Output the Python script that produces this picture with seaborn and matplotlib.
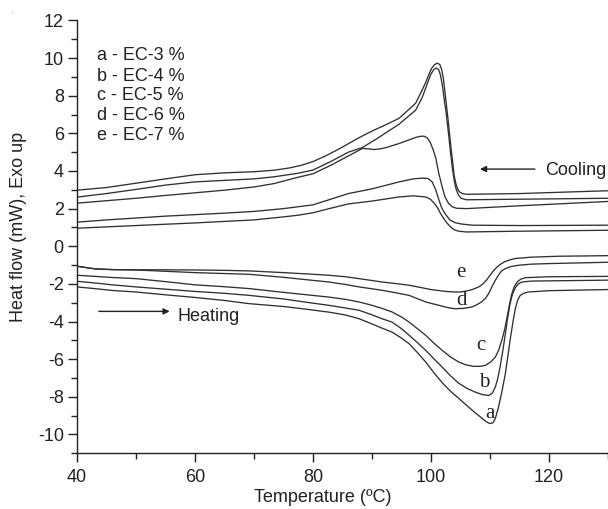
import numpy as np
import pandas as pd
import matplotlib
matplotlib.use("Agg")
import matplotlib.pyplot as plt
from matplotlib.ticker import MultipleLocator
import seaborn as sns

# ---------------- data ----------------
# Cooling curves (exothermic, upper set)
cool_A_T = [40, 45, 50, 55, 60, 65, 70, 73.4, 76, 78, 80, 82, 84, 86, 88, 90, 92.5, 94.6, 96, 97.4, 98.5, 99.1, 99.6, 100.1, 100.6, 101.1, 101.5, 101.8, 102.1, 102.4, 102.8, 103.1, 103.4, 103.7, 103.9, 104.2, 104.5, 104.8, 105.3, 106, 115, 130]
cool_A_y = [2.98, 3.12, 3.35, 3.58, 3.8, 3.9, 3.96, 4.04, 4.16, 4.3, 4.5, 4.78, 5.1, 5.45, 5.8, 6.12, 6.48, 6.8, 7.2, 7.6, 8.3, 8.7, 9.1, 9.45, 9.65, 9.73, 9.65, 9.4, 8.9, 8.1, 7.0, 6.1, 5.2, 4.4, 3.8, 3.35, 3.05, 2.9, 2.8, 2.76, 2.8, 2.95]

cool_B_T = [40, 45, 50, 55, 60, 65, 70, 73.4, 77.5, 80, 83, 86, 88.4, 91, 94.6, 97.4, 98.5, 99.6, 100.0, 100.5, 100.9, 101.3, 101.6, 101.9, 102.2, 102.6, 103.0, 103.3, 103.6, 103.9, 104.2, 104.6, 105.1, 106, 115, 130]
cool_B_y = [2.61, 2.8, 3.02, 3.25, 3.42, 3.5, 3.58, 3.69, 3.88, 4.05, 4.5, 5.0, 5.25, 5.75, 6.49, 7.23, 7.9, 8.83, 9.15, 9.4, 9.47, 9.38, 9.1, 8.6, 7.9, 7.0, 5.9, 5.0, 4.2, 3.55, 3.1, 2.75, 2.55, 2.47, 2.5, 2.55]

cool_C_T = [40, 45, 50, 55, 60, 65, 70, 73.4, 77.5, 80, 83, 86, 88.4, 89.5, 90.3, 91.5, 92.5, 94.6, 96, 97.4, 98.2, 98.8, 99.4, 99.9, 100.4, 100.8, 101.3, 101.9, 102.4, 103.0, 103.6, 104.3, 106, 115, 130]
cool_C_y = [2.29, 2.42, 2.55, 2.7, 2.84, 2.98, 3.15, 3.33, 3.67, 3.85, 4.3, 4.8, 5.2, 5.17, 5.14, 5.18, 5.25, 5.46, 5.62, 5.78, 5.84, 5.85, 5.75, 5.5, 5.1, 4.7, 3.9, 3.15, 2.6, 2.27, 2.1, 2.02, 2.0, 2.15, 2.38]

cool_D_T = [40, 45, 50, 55, 60, 65, 70, 75, 77.5, 80, 83, 86, 90, 94.6, 97, 98.5, 99.5, 100.2, 100.8, 101.3, 101.8, 102.4, 103.2, 104.1, 105.2, 107, 115, 130]
cool_D_y = [1.28, 1.4, 1.5, 1.6, 1.68, 1.76, 1.85, 2.0, 2.1, 2.2, 2.5, 2.8, 3.05, 3.42, 3.58, 3.62, 3.6, 3.42, 3.0, 2.5, 2.05, 1.72, 1.4, 1.25, 1.18, 1.12, 1.1, 1.12]

cool_E_T = [40, 45, 50, 55, 60, 65, 70, 75, 77.5, 80, 83, 86, 90, 94.6, 97, 99.1, 99.9, 100.5, 101.1, 101.6, 102.2, 102.8, 103.4, 104.0, 104.7, 106, 115, 130]
cool_E_y = [0.96, 1.03, 1.1, 1.17, 1.24, 1.32, 1.4, 1.56, 1.65, 1.78, 2.02, 2.25, 2.4, 2.62, 2.68, 2.62, 2.5, 2.3, 2.05, 1.75, 1.45, 1.2, 1.0, 0.87, 0.8, 0.76, 0.8, 0.85]

# Heating curves (endothermic, lower set), labels a-e
heat_a_T = [40, 43, 46, 50, 55, 60, 65, 69.2, 75, 79, 82.7, 85.5, 87.8, 89.8, 91.7, 93.4, 95, 96.3, 97.7, 99.1, 100.5, 101.9, 103.3, 104.7, 106.1, 107.5, 108.5, 109.2, 109.7, 110.1, 110.5, 110.9, 111.4, 112.0, 112.6, 113.0, 113.4, 113.9, 114.3, 114.7, 115.1, 115.7, 116.5, 120, 130]
heat_a_y = [-2.16, -2.25, -2.35, -2.43, -2.58, -2.72, -2.88, -3.05, -3.2, -3.35, -3.5, -3.65, -3.85, -4.1, -4.35, -4.56, -4.88, -5.18, -5.65, -6.15, -6.72, -7.25, -7.7, -8.08, -8.47, -8.85, -9.1, -9.28, -9.38, -9.42, -9.38, -9.15, -8.6, -7.75, -6.77, -5.9, -5.0, -4.0, -3.3, -2.85, -2.62, -2.5, -2.43, -2.36, -2.3]

heat_b_T = [40, 43, 46, 50, 55, 60, 65, 69.2, 75, 79, 82.7, 85.5, 87.8, 89.8, 91.7, 93.4, 95, 96.3, 97.7, 99.1, 100.5, 101.9, 103.3, 104.7, 106.1, 107.5, 108.7, 109.8, 110.4, 110.9, 111.3, 111.7, 112.2, 112.6, 113.0, 113.4, 113.8, 114.3, 114.8, 115.4, 117, 130]
heat_b_y = [-1.86, -1.95, -2.05, -2.16, -2.28, -2.4, -2.5, -2.61, -2.8, -2.98, -3.14, -3.28, -3.4, -3.62, -3.85, -4.03, -4.38, -4.73, -5.12, -5.53, -5.98, -6.42, -6.88, -7.28, -7.55, -7.75, -7.88, -7.93, -7.8, -7.48, -7.05, -6.42, -5.5, -4.65, -3.8, -3.05, -2.55, -2.2, -2.0, -1.9, -1.85, -1.8]

heat_c_T = [40, 43, 46, 50, 55, 60, 65, 69.2, 75, 79, 82.7, 85.5, 87.8, 89.8, 91.7, 93.4, 95, 96.3, 97.7, 99.1, 100.5, 101.9, 103.3, 104.7, 105.9, 107.2, 108.3, 109.2, 110.1, 110.9, 111.5, 112.0, 112.5, 112.9, 113.3, 113.7, 114.1, 114.6, 115.2, 116, 120, 130]
heat_c_y = [-1.54, -1.6, -1.66, -1.72, -1.88, -2.05, -2.15, -2.25, -2.45, -2.58, -2.7, -2.82, -2.96, -3.12, -3.3, -3.49, -3.76, -4.03, -4.38, -4.73, -5.15, -5.53, -5.88, -6.15, -6.3, -6.38, -6.38, -6.33, -6.15, -5.89, -5.5, -5.0, -4.4, -3.76, -3.1, -2.52, -2.15, -1.9, -1.75, -1.67, -1.62, -1.6]

heat_d_T = [40, 43, 46, 50, 55, 60, 65, 69.2, 75, 79, 82.7, 85.5, 87.8, 89.8, 91.7, 94, 96.3, 99.1, 101.5, 103.0, 104.1, 105.5, 106.9, 107.7, 108.5, 109.2, 109.8, 110.4, 110.9, 111.5, 112.0, 112.6, 113.5, 114.8, 117, 120, 130]
heat_d_y = [-1.06, -1.2, -1.24, -1.26, -1.33, -1.4, -1.45, -1.49, -1.65, -1.78, -1.9, -2.03, -2.16, -2.25, -2.34, -2.47, -2.61, -2.96, -3.15, -3.27, -3.32, -3.3, -3.23, -3.12, -2.97, -2.78, -2.5, -2.1, -1.81, -1.5, -1.3, -1.19, -1.08, -1.01, -0.95, -0.92, -0.85]

heat_e_T = [40, 43, 46, 50, 55, 60, 65, 69.2, 75, 79, 82.7, 85.5, 87.8, 89.8, 91.7, 94, 96.3, 100, 102.5, 104.0, 105.0, 106.0, 107.0, 108.1, 108.8, 109.4, 110.0, 110.6, 111.2, 111.8, 112.5, 113.4, 114.3, 117, 121.6, 130]
heat_e_y = [-1.06, -1.2, -1.24, -1.25, -1.25, -1.26, -1.28, -1.31, -1.4, -1.47, -1.54, -1.62, -1.72, -1.81, -1.9, -1.98, -2.07, -2.3, -2.4, -2.43, -2.43, -2.38, -2.3, -2.16, -2.0, -1.8, -1.55, -1.3, -1.1, -0.95, -0.82, -0.72, -0.65, -0.58, -0.53, -0.5]

heat_labels = ["a", "b", "c", "d", "e"]
heat_label_T = [110.0, 109.1, 108.4, 105.2, 105.0]
heat_label_y = [-8.87, -7.22, -5.27, -2.9, -1.37]

legend_lines = ["a - EC-3 %", "b - EC-4 %", "c - EC-5 %", "d - EC-6 %", "e - EC-7 %"]
legend_y = [10.16, 9.04, 7.99, 6.97, 5.9]

x_ticks = [40, 60, 80, 100, 120]
y_ticks = [-10, -8, -6, -4, -2, 0, 2, 4, 6, 8, 10, 12]

# ---------------- build long-form table ----------------
curves = {
    "cool_A": (cool_A_T, cool_A_y), "cool_B": (cool_B_T, cool_B_y),
    "cool_C": (cool_C_T, cool_C_y), "cool_D": (cool_D_T, cool_D_y),
    "cool_E": (cool_E_T, cool_E_y),
    "heat_a": (heat_a_T, heat_a_y), "heat_b": (heat_b_T, heat_b_y),
    "heat_c": (heat_c_T, heat_c_y), "heat_d": (heat_d_T, heat_d_y),
    "heat_e": (heat_e_T, heat_e_y),
}
frames = []
for name, (t, y) in curves.items():
    frames.append(pd.DataFrame({"T": t, "hf": y, "curve": name}))
df = pd.concat(frames, ignore_index=True)

# ---------------- plot ----------------
sns.set_theme(style="ticks")
plt.rcParams["font.family"] = ["Liberation Sans", "DejaVu Sans"]
plt.rcParams["axes.unicode_minus"] = False

TXT = "#222222"
fig = plt.figure(figsize=(6.08, 5.09), dpi=100)
ax = fig.add_axes([77 / 608, 55.7 / 509, 531 / 608, 432.9 / 509])

sns.lineplot(data=df, x="T", y="hf", units="curve", estimator=None,
             sort=False, color="#303030", linewidth=0.95, ax=ax, legend=False)
for ln in ax.lines:
    ln.set_solid_joinstyle("round")

ax.set_xlim(40, 130)
ax.set_ylim(-11, 12)
ax.set_xticks(x_ticks)
ax.set_yticks(y_ticks)
ax.xaxis.set_minor_locator(MultipleLocator(10))
ax.yaxis.set_minor_locator(MultipleLocator(1))
ax.tick_params(which="major", direction="out", length=6.5, width=1.0,
               color=TXT, labelsize=13, labelcolor=TXT, pad=3)
ax.tick_params(which="minor", direction="out", length=4.5, width=1.0,
               color=TXT)
ax.tick_params(axis="x", which="major", pad=5)
for s in ["top", "right"]:
    ax.spines[s].set_visible(False)
for s in ["left", "bottom"]:
    ax.spines[s].set_color(TXT)
    ax.spines[s].set_linewidth(1.0)

ax.set_xlabel("Temperature (ºC)", fontsize=13, color=TXT)
ax.set_ylabel("Heat flow (mW), Exo up", fontsize=13, color=TXT)
ax.xaxis.set_label_coords(0.463, -0.082)
ax.yaxis.set_label_coords(-0.094, 0.524)

# legend-like text block
for txt, yy in zip(legend_lines, legend_y):
    ax.text(43.4, yy, txt, fontsize=13, color=TXT, ha="left", va="center")

# curve letters
for lab, tx, ty in zip(heat_labels, heat_label_T, heat_label_y):
    ax.text(tx, ty, lab, fontsize=15, family="Liberation Serif",
            color=TXT, ha="center", va="center")

# arrows
ax.annotate("", xy=(108.3, 4.1), xytext=(117.6, 4.1),
            arrowprops=dict(arrowstyle="-|>", lw=1.0, color=TXT,
                            mutation_scale=9, shrinkA=0, shrinkB=0))
ax.text(119.3, 4.04, "Cooling", fontsize=13, color=TXT, ha="left", va="center")
ax.annotate("", xy=(55.7, -3.46), xytext=(43.7, -3.46),
            arrowprops=dict(arrowstyle="-|>", lw=1.0, color=TXT,
                            mutation_scale=9, shrinkA=0, shrinkB=0))
ax.text(57.1, -3.72, "Heating", fontsize=13, color=TXT, ha="left", va="center")

# small stray mark in the top-left corner of the original figure
fig.text(13 / 608, 1 - 10 / 509, ".", fontsize=8, color="#888888",
         ha="center", va="center")

fig.savefig("out.png", dpi=100)
